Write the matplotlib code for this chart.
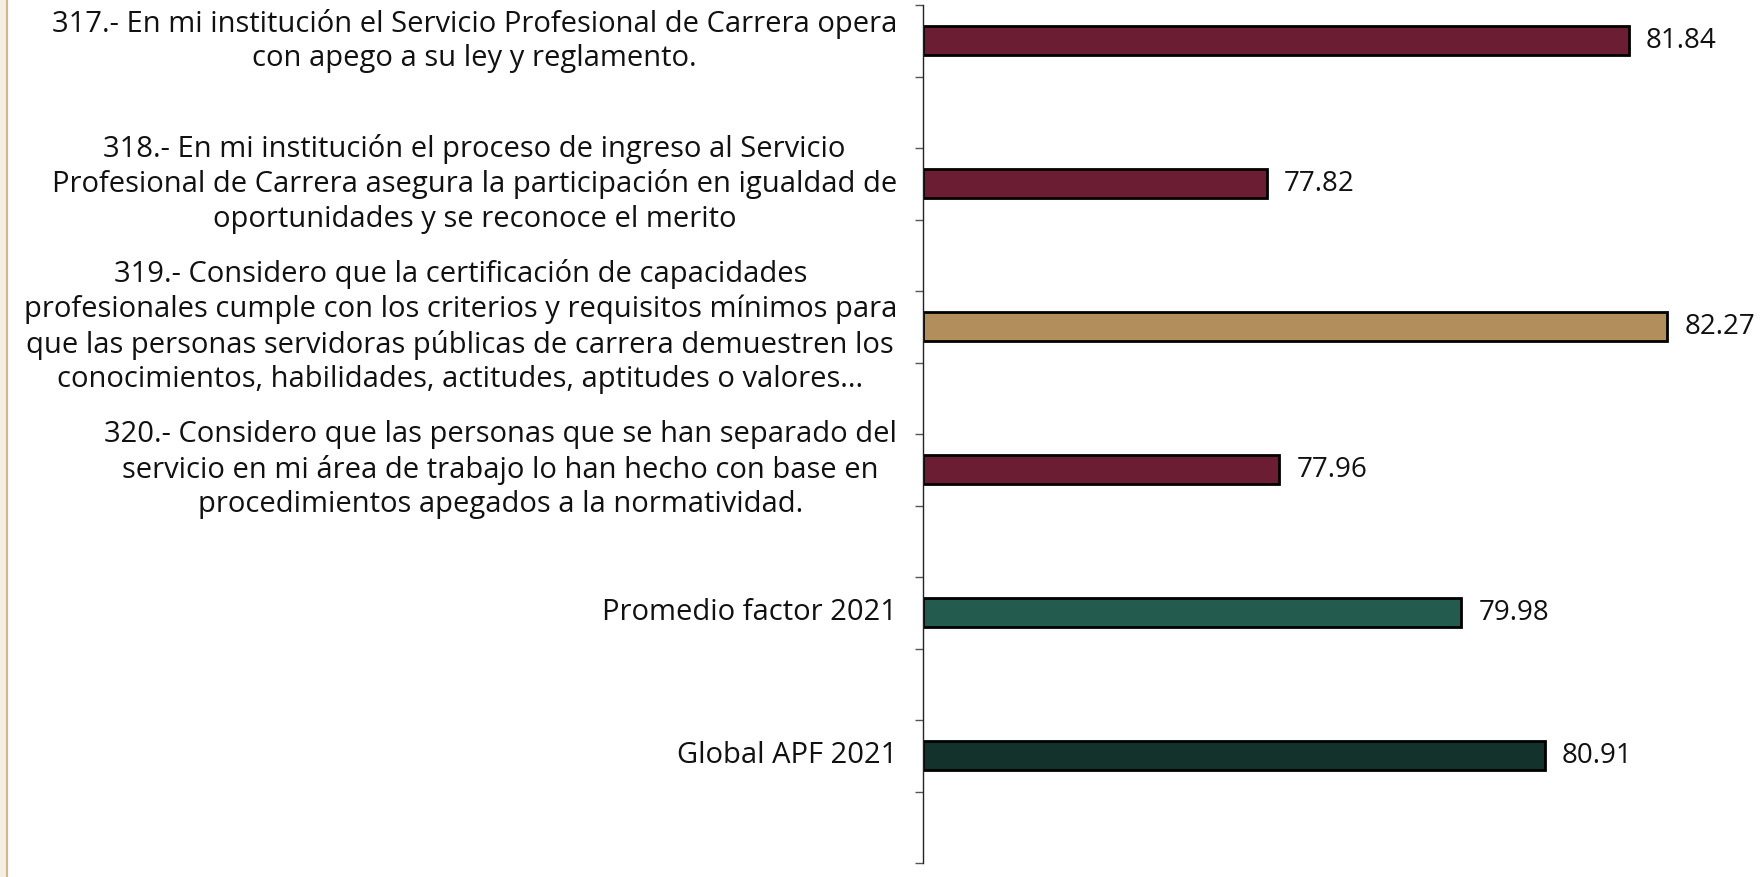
import matplotlib
matplotlib.use("Agg")
import matplotlib.pyplot as plt
import numpy as np
from matplotlib.patches import Rectangle
from matplotlib.lines import Line2D

categories = [
    "317.- En mi institución el Servicio Profesional de Carrera opera\ncon apego a su ley y reglamento.",
    "318.- En mi institución el proceso de ingreso al Servicio\nProfesional de Carrera asegura la participación en igualdad de\noportunidades y se reconoce el merito",
    "319.- Considero que la certificación de capacidades\nprofesionales cumple con los criterios y requisitos mínimos para\nque las personas servidoras públicas de carrera demuestren los\nconocimientos, habilidades, actitudes, aptitudes o valores...",
    "320.- Considero que las personas que se han separado del\nservicio en mi área de trabajo lo han hecho con base en\nprocedimientos apegados a la normatividad.",
    "Promedio factor 2021",
    "Global APF 2021",
]
values = [81.84, 77.82, 82.27, 77.96, 79.98, 80.91]
colors = ["#6A1D33", "#6A1D33", "#B38E5D", "#6A1D33", "#235B4E", "#13322B"]

FONT = ["Open Sans", "DejaVu Sans"]
plt.rcParams["font.family"] = FONT

W, H = 1762, 877
fig = plt.figure(figsize=(W / 100, H / 100), dpi=100)
ax = fig.add_axes([923 / W, (H - 863) / H, 1 - 923 / W, (863 - 5) / H])

y = np.arange(len(values))
xmin = 74.0
xmax = xmin + (W - 923) / 90.0
ax.barh(y, [v - xmin for v in values], left=xmin, height=0.2, color=colors,
        edgecolor="black", linewidth=2)

for yi, v in zip(y, values):
    ax.text(v + 0.19, yi, f"{v:.2f}", va="center", ha="left", fontsize=20,
            color="#111111", clip_on=False)

ax.set_xlim(xmin, xmax)
ax.set_ylim(len(values) - 0.25, -0.25)
ax.set_yticks(np.arange(-0.25, len(values) - 0.2, 0.5))
ax.set_yticklabels([])
ax.tick_params(axis="y", length=6, width=1, color="#555555", direction="out")
ax.set_xticks([])
for s in ["top", "right", "bottom"]:
    ax.spines[s].set_visible(False)
ax.spines["left"].set_linewidth(1.0)
ax.spines["left"].set_color("#222222")

for yi, lab in zip(y, categories):
    ax.annotate(lab, xy=(0, yi), xycoords=("axes fraction", "data"),
                xytext=(-26, 0), textcoords="offset pixels",
                ha="right", va="center", multialignment="center",
                fontsize=21, color="#111111", linespacing=1.24)

# decorative left strip
fig.patches.append(Rectangle((0, 0), 6 / W, 1, transform=fig.transFigure,
                             facecolor="#F4EEE3", edgecolor="none"))
fig.lines.append(Line2D([6.5 / W, 6.5 / W], [0, 1], transform=fig.transFigure,
                        color="#D8B589", linewidth=1.5))

fig.savefig("out.png", dpi=100)
